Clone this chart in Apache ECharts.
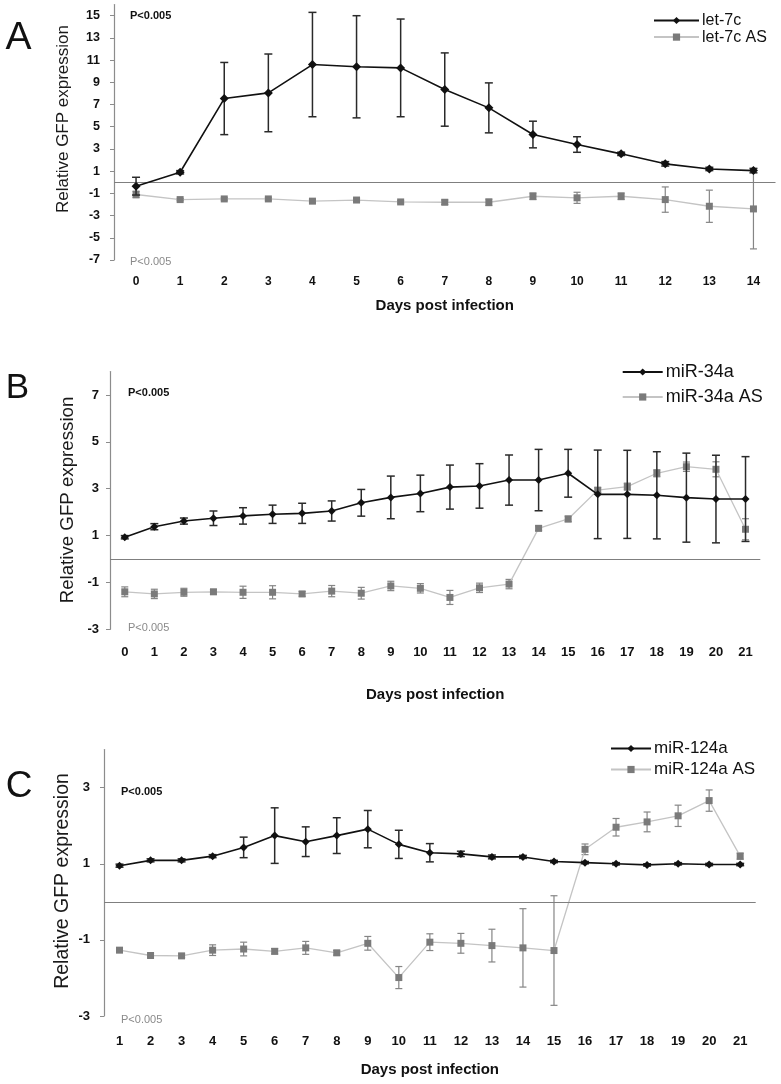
<!DOCTYPE html>
<html>
<head>
<meta charset="utf-8">
<script src="https://cdn.jsdelivr.net/npm/echarts@6/dist/echarts.min.js"></script>
<style>
html,body{margin:0;padding:0;background:#fff;}
#chart{width:781px;height:1084px;}
</style>
</head>
<body>
<div id="chart"></div>
<script>
// ---------- Panel A: let-7c ----------
const daysA = ['0','1','2','3','4','5','6','7','8','9','10','11','12','13','14'];
const let7c = [-0.35, 0.9, 7.54, 8.05, 10.6, 10.4, 10.3, 8.35, 6.7, 4.3, 3.4, 2.56, 1.66, 1.2, 1.05];
const let7cErr = [0.8, 0.15, 3.25, 3.5, 4.7, 4.6, 4.4, 3.3, 2.25, 1.2, 0.7, 0.15, 0.2, 0.15, 0.2];
const let7cAS = [-1.1, -1.56, -1.5, -1.5, -1.7, -1.6, -1.77, -1.8, -1.8, -1.26, -1.4, -1.26, -1.56, -2.16, -2.4];
const let7cASErr = [0.3, 0.1, 0.1, 0.1, 0.15, 0.12, 0.1, 0.2, 0.3, 0.3, 0.5, 0.3, 1.14, 1.45, 3.6];

// ---------- Panel B: miR-34a ----------
const daysB = ['0','1','2','3','4','5','6','7','8','9','10','11','12','13','14','15','16','17','18','19','20','21'];
const miR34a = [0.93, 1.38, 1.62, 1.74, 1.84, 1.91, 1.95, 2.05, 2.4, 2.63, 2.8, 3.07, 3.12, 3.37, 3.37, 3.66, 2.76, 2.76, 2.72, 2.62, 2.56, 2.56];
const miR34aErr = [0.07, 0.13, 0.13, 0.31, 0.35, 0.39, 0.43, 0.43, 0.57, 0.91, 0.78, 0.94, 0.95, 1.07, 1.31, 1.02, 1.89, 1.88, 1.86, 1.9, 1.87, 1.81];
const miR34aAS = [-1.4, -1.49, -1.42, -1.4, -1.42, -1.42, -1.49, -1.37, -1.46, -1.15, -1.25, -1.64, -1.23, -1.07, 1.31, 1.71, 2.94, 3.09, 3.66, 3.94, 3.83, 1.27];
const miR34aASErr = [0.21, 0.2, 0.17, 0.1, 0.26, 0.28, 0.1, 0.24, 0.25, 0.2, 0.2, 0.3, 0.2, 0.2, 0.1, 0.12, 0.1, 0.15, 0.15, 0.2, 0.32, 0.45];

// ---------- Panel C: miR-124a ----------
const daysC = ['1','2','3','4','5','6','7','8','9','10','11','12','13','14','15','16','17','18','19','20','21'];
const miR124a = [0.95, 1.09, 1.09, 1.2, 1.43, 1.74, 1.58, 1.74, 1.91, 1.51, 1.29, 1.26, 1.18, 1.18, 1.06, 1.03, 1.0, 0.97, 1.0, 0.98, 0.98];
const miR124aErr = [0.04, 0.04, 0.04, 0.04, 0.27, 0.73, 0.39, 0.47, 0.49, 0.37, 0.24, 0.07, 0.05, 0.04, 0.03, 0.03, 0.03, 0.03, 0.03, 0.03, 0.03];
const miR124aAS = [-1.27, -1.41, -1.42, -1.27, -1.24, -1.3, -1.21, -1.34, -1.09, -1.99, -1.06, -1.09, -1.15, -1.21, -1.28, 1.38, 1.96, 2.1, 2.26, 2.66, 1.2];
const miR124aASErr = [0.05, 0.04, 0.05, 0.14, 0.18, 0.07, 0.17, 0.06, 0.18, 0.29, 0.22, 0.26, 0.43, 1.03, 1.44, 0.14, 0.23, 0.26, 0.28, 0.28, 0.08];

const yTicksA = {min: -7, max: 16, interval: 2};
const yTicksB = {min: -3, max: 8, interval: 2};
const yTicksC = {min: -3, max: 4, interval: 2};

const FONT = 'Liberation Sans, Arial, Helvetica, sans-serif';
const BLACK = '#111111';
const GRAY_M = '#7a7a7a';
const GRAY_L = '#c4c4c4';

const panels = [
  {days: daysA, main: let7c, mainErr: let7cErr, as: let7cAS, asErr: let7cASErr,
   name: 'let-7c', asName: 'let-7c AS', yt: yTicksA,
   grid: {left: 114, top: 4.6, width: 661.5, height: 255.4},
   labelMargin: 16, yLabelMargin: 14, nameGap: 38, labelSize: 12, yLabelSize: 12.5, sym: 9, asSym: 7,
   legend: {left: 653, top: 12.5, itemWidth: 45, itemHeight: 9, itemGap: 0.6, fontSize: 16}},
  {days: daysB, main: miR34a, mainErr: miR34aErr, as: miR34aAS, asErr: miR34aASErr,
   name: 'miR-34a', asName: 'miR-34a AS', yt: yTicksB,
   grid: {left: 110, top: 371.6, width: 650.3, height: 257.7},
   labelMargin: 17, yLabelMargin: 11, nameGap: 58, labelSize: 13, yLabelSize: 13, sym: 8, asSym: 7,
   legend: {left: 621.7, top: 363, itemWidth: 40, itemHeight: 9, itemGap: 7, fontSize: 18}},
  {days: daysC, main: miR124a, mainErr: miR124aErr, as: miR124aAS, asErr: miR124aASErr,
   name: 'miR-124a', asName: 'miR-124a AS', yt: yTicksC,
   grid: {left: 104, top: 749.6, width: 651.7, height: 266.4},
   labelMargin: 19, yLabelMargin: 14, nameGap: 46, labelSize: 13, yLabelSize: 13, sym: 8, asSym: 7,
   legend: {left: 610, top: 740, itemWidth: 40, itemHeight: 9, itemGap: 4, fontSize: 17}}
];

function errBars(color, capHalf, lw) {
  return function (params, api) {
    const x = api.value(0), m = api.value(1), e = api.value(2);
    const top = api.coord([x, m + e]);
    const bot = api.coord([x, m - e]);
    const st = {stroke: color, lineWidth: lw};
    return {type: 'group', children: [
      {type: 'line', shape: {x1: top[0], y1: top[1], x2: bot[0], y2: bot[1]}, style: st},
      {type: 'line', shape: {x1: top[0] - capHalf, y1: top[1], x2: top[0] + capHalf, y2: top[1]}, style: st},
      {type: 'line', shape: {x1: bot[0] - capHalf, y1: bot[1], x2: bot[0] + capHalf, y2: bot[1]}, style: st}
    ]};
  };
}

const grids = [], xAxes = [], yAxes = [], series = [], legends = [];
panels.forEach((p, i) => {
  grids.push(p.grid);
  xAxes.push({
    type: 'category', gridIndex: i, data: p.days, boundaryGap: true,
    axisLine: {show: false, onZero: false}, axisTick: {show: false},
    axisLabel: {color: BLACK, fontWeight: 'bold', fontSize: p.labelSize, fontFamily: FONT, margin: p.labelMargin, interval: 0},
    name: 'Days post infection', nameLocation: 'middle', nameGap: p.nameGap,
    nameTextStyle: {color: BLACK, fontSize: 15, fontWeight: 'bold', fontFamily: FONT}
  });
  yAxes.push({
    type: 'value', gridIndex: i, min: p.yt.min, max: p.yt.max, interval: p.yt.interval,
    axisLine: {show: true, lineStyle: {color: '#8c8c8c', width: 1.2}},
    axisTick: {show: true, length: 4, lineStyle: {color: '#8c8c8c', width: 1}},
    splitLine: {show: false},
    axisLabel: {color: BLACK, fontWeight: 'bold', fontSize: p.yLabelSize, fontFamily: FONT, margin: p.yLabelMargin, showMaxLabel: false}
  });
  series.push({
    type: 'custom', xAxisIndex: i, yAxisIndex: i, silent: true, z: 2,
    renderItem: errBars('#858585', 3.5, 1.2),
    data: p.as.map((v, k) => [k, v, p.asErr[k]])
  });
  series.push({
    type: 'line', name: p.asName, xAxisIndex: i, yAxisIndex: i, z: 3,
    data: p.as, symbol: 'rect', symbolSize: p.asSym, showAllSymbol: true,
    lineStyle: {color: GRAY_L, width: 1.3}, itemStyle: {color: GRAY_M},
    animation: false
  });
  series.push({
    type: 'custom', xAxisIndex: i, yAxisIndex: i, silent: true, z: 4,
    renderItem: errBars('#2a2a2a', 4, 1.5),
    data: p.main.map((v, k) => [k, v, p.mainErr[k]])
  });
  series.push({
    type: 'line', name: p.name, xAxisIndex: i, yAxisIndex: i, z: 5,
    data: p.main, symbol: 'diamond', symbolSize: p.sym, showAllSymbol: true,
    lineStyle: {color: BLACK, width: 1.6}, itemStyle: {color: BLACK},
    animation: false,
    markLine: {
      silent: true, symbol: ['none', 'none'], label: {show: false},
      lineStyle: {color: '#7f7f7f', width: 1.2, type: 'solid'},
      data: [{yAxis: 0}], animation: false
    }
  });
  legends.push({
    data: [p.name, p.asName], orient: 'vertical',
    left: p.legend.left, top: p.legend.top,
    itemWidth: p.legend.itemWidth, itemHeight: p.legend.itemHeight, itemGap: p.legend.itemGap,
    selectedMode: false, padding: 0,
    textStyle: {color: BLACK, fontSize: p.legend.fontSize, fontFamily: FONT, lineHeight: p.legend.fontSize, padding: [0, 0, 0, -2]}
  });
});

function txt(x, y, s, size, opts) {
  return Object.assign({type: 'text', x: x, y: y, style: Object.assign({
    text: s, fontSize: size, fontFamily: FONT, fill: BLACK, align: 'left', verticalAlign: 'middle'
  }, opts || {})});
}
function ytitle(x, y, size) {
  return {type: 'text', x: x, y: y, rotation: Math.PI / 2,
    style: {text: 'Relative GFP expression', fontSize: size, fontFamily: FONT, fill: '#1a1a1a', align: 'center', verticalAlign: 'middle'}};
}

const graphics = [
  txt(18.5, 38, 'A', 39, {align: 'center', fill: '#111'}),
  txt(17.5, 388, 'B', 35, {align: 'center', fill: '#111'}),
  txt(19, 787, 'C', 37, {align: 'center', fill: '#111'}),
  ytitle(63, 119, 17),
  ytitle(68, 500, 18.7),
  ytitle(63, 881, 19.5),
  txt(130, 15.7, 'P<0.005', 11, {fontWeight: 'bold'}),
  txt(130, 262, 'P<0.005', 11, {fill: '#8a8a8a'}),
  txt(128, 393.3, 'P<0.005', 11, {fontWeight: 'bold'}),
  txt(128, 628.3, 'P<0.005', 11, {fill: '#8a8a8a'}),
  txt(121, 791.7, 'P<0.005', 11, {fontWeight: 'bold'}),
  txt(121, 1020, 'P<0.005', 11, {fill: '#8a8a8a'})
];

const chart = echarts.init(document.getElementById('chart'), null, {renderer: 'canvas'});
chart.setOption({
  animation: false,
  backgroundColor: '#ffffff',
  grid: grids, xAxis: xAxes, yAxis: yAxes, series: series, legend: legends,
  graphic: graphics
});
</script>
</body>
</html>
